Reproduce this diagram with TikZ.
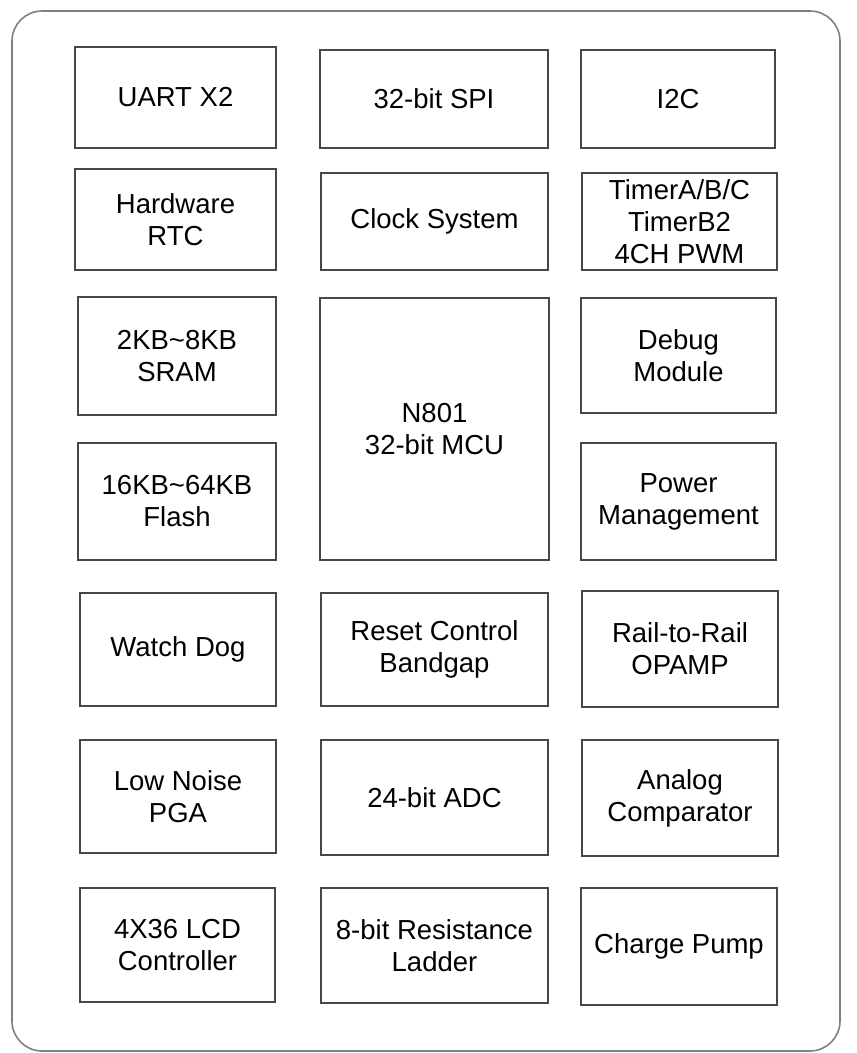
\documentclass[tikz,border=0pt]{standalone}
\usepackage{fontspec}
\setmainfont{Liberation Sans}
\begin{document}
\begin{tikzpicture}[x=1pt,y=-1pt,
  blk/.style={draw=black!72, line width=1.4pt, align=center, inner sep=0pt,
    font=\fontsize{27.5}{32}\selectfont, text=black},
  outer/.style={draw=black!50, line width=1.6pt, rounded corners=30pt}]
\useasboundingbox (0,0) rectangle (857,1053);
\newcommand\bx[6]{\node[blk, minimum width={#4-#2}, minimum height={#5-#3}] (#1) at ({(#2+#4)/2},{(#3+#5)/2}) {#6};}
\draw[outer] (12,11) rectangle (840,1051);
\bx{uart}{75}{47}{276}{148}{UART X2}
\bx{spi}{320}{50}{548}{148}{32-bit SPI}
\bx{iic}{581}{50}{775}{148}{I2C}
\bx{rtc}{75}{169}{276}{270}{Hardware\\RTC}
\bx{clk}{321}{173}{548}{270}{Clock System}
\bx{tmr}{582}{173}{777}{270}{TimerA/B/C\\TimerB2\\4CH PWM}
\bx{sram}{78}{297}{276}{415}{2KB\textasciitilde 8KB\\SRAM}
\bx{mcu}{320}{298}{549}{560}{N801\\32-bit MCU}
\bx{dbg}{581}{298}{776}{413}{Debug\\Module}
\bx{flash}{78}{443}{276}{560}{16KB\textasciitilde 64KB\\Flash}
\bx{pwr}{581}{443}{776}{560}{Power\\Management}
\bx{wdg}{80}{593}{276}{706}{Watch Dog}
\bx{rst}{321}{593}{548}{706}{Reset Control\\Bandgap}
\bx{opa}{582}{591}{778}{707}{Rail-to-Rail\\OPAMP}
\bx{pga}{80}{740}{276}{853}{Low Noise\\PGA}
\bx{adc}{321}{740}{548}{855}{24-bit ADC}
\bx{cmp}{582}{740}{778}{856}{Analog\\Comparator}
\bx{lcd}{80}{888}{275}{1002}{4X36 LCD\\Controller}
\bx{lad}{321}{888}{548}{1003}{8-bit Resistance\\Ladder}
\bx{chp}{581}{888}{777}{1005}{Charge Pump}
\end{tikzpicture}
\end{document}
